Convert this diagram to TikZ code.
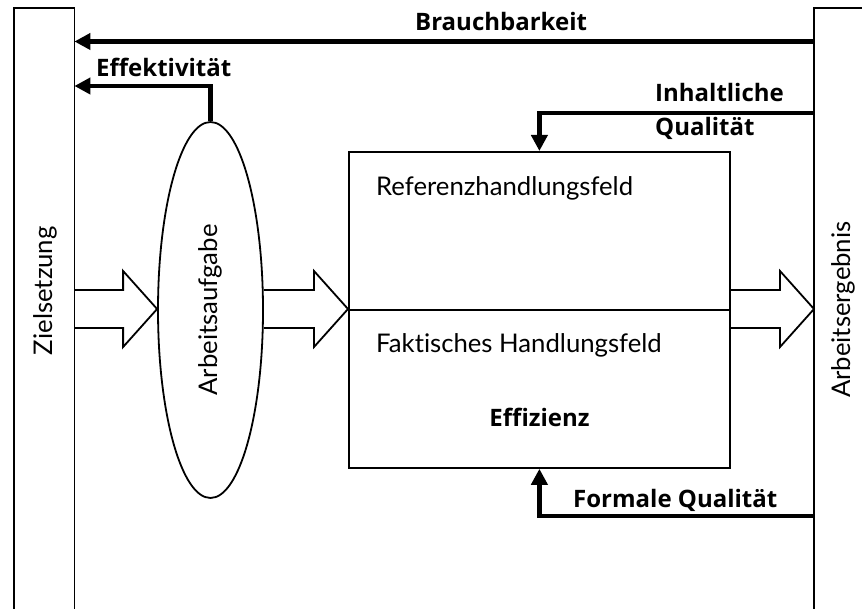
\documentclass[tikz,border=0pt]{standalone}
\usepackage{fontspec}
\setmainfont{Lato}[Ligatures=CommonOff]
\newfontfamily\labelfont{Open Sans}[Ligatures=CommonOff]
\usetikzlibrary{arrows.meta,calc,shapes.geometric}

% hollow block arrow from a start point to a tip on the axis y of the tip
\newcommand\blockarrow[2]{%
  \draw[hollow] ($(#1)+(0,-19)$) -- ($(#2)+(-34,-19)$) -- ($(#2)+(-34,-38)$)
    -- (#2) -- ($(#2)+(-34,38)$) -- ($(#2)+(-34,19)$) -- ($(#1)+(0,19)$);}

\begin{document}
\begin{tikzpicture}[x=1pt,y=-1pt,
  thinline/.style={line width=1.8pt},
  flow/.style={line width=4.4pt, line join=miter, -{Triangle[length=16pt,width=16pt]}},
  hollow/.style={line width=1.8pt, line join=miter},
  lbl/.style={font=\labelfont\fontsize{24}{28}\selectfont\bfseries, inner sep=0pt},
  txt/.style={font=\fontsize{25.7}{30}\selectfont, inner sep=0pt},
  pillar/.style={minimum width=60pt, minimum height=601pt, inner sep=0pt, anchor=north west},
  field/.style={draw, thinline, minimum width=381pt, minimum height=158pt, inner sep=0pt, anchor=north west},
]
\useasboundingbox (0,0) rectangle (862,609);

% side pillars, open at the bottom
\node[pillar] (ziel) at (14,8) {};
\node[pillar] (erg) at (814,8) {};
\draw[thinline] (ziel.south west) -- (ziel.north west) -- (ziel.north east) -- (ziel.south east);
\draw[thinline] (erg.south west) -- (erg.north west) -- (erg.north east) -- (erg.south east);
\node[txt, rotate=90] (zieltxt) at ($(ziel.center)+(1,-18)$) {Zielsetzung};
\node[txt, rotate=90] (ergtxt) at ($(erg.west)+(29,1)$) {Arbeitsergebnis};

% task ellipse
\node[ellipse, draw, thinline, minimum width=105pt, minimum height=376pt, inner sep=0pt] (aufg) at (210.5,310) {};
\node[txt, rotate=90] (aufgtxt) at (aufg.center) {Arbeitsaufgabe};

% action fields
\node[field] (ref) at (348,151) {};
\node[field] (fakt) at (348,309) {};
\node[txt, anchor=base west] (reftxt) at (376,196) {Referenzhandlungsfeld};
\node[txt, anchor=base west] (fakttxt) at (376,353) {Faktisches Handlungsfeld};
\node[lbl, anchor=base] (effiz) at (539.5,426) {Effizienz};

% block arrows along the main axis
\coordinate (a1s) at (ziel.east |- fakt.north west);
\coordinate (a1t) at (aufg.west |- fakt.north west);
\coordinate (a2s) at (aufg.east |- fakt.north west);
\coordinate (a3t) at (erg.west |- fakt.north east);
\blockarrow{a1s}{a1t}
\blockarrow{a2s}{fakt.north west}
\blockarrow{fakt.north east}{a3t}

% feedback arrows
\coordinate (brs) at (erg.west |- 0,41.5);
\coordinate (bre) at (ziel.east |- 0,41.5);
\draw[flow] (brs) -- (bre);

\coordinate (efk) at (aufg.north |- 0,86);
\coordinate (efe) at (ziel.east |- 0,86);
\draw[flow] (aufg.north) -- (efk) -- (efe);

\coordinate (ins) at (erg.west |- 0,113);
\coordinate (ink) at (ref.north |- 0,113);
\draw[flow] (ins) -- (ink) -- (ref.north);

\coordinate (fos) at (erg.west |- 0,516);
\coordinate (fok) at (fakt.south |- 0,516);
\draw[flow] (fos) -- (fok) -- (fakt.south);

% arrow labels
\node[lbl, anchor=base west] (brauch) at (415,31) {Brauchbarkeit};
\node[lbl, anchor=base west] (effekt) at (96,77) {Effektivität};
\node[lbl, anchor=base west] (inh1) at (655,102) {Inhaltliche};
\node[lbl, anchor=base west] (inh2) at (655,136) {Qualität};
\node[lbl, anchor=base west] (formal) at (573,507) {Formale Qualität};
\end{tikzpicture}
\end{document}
